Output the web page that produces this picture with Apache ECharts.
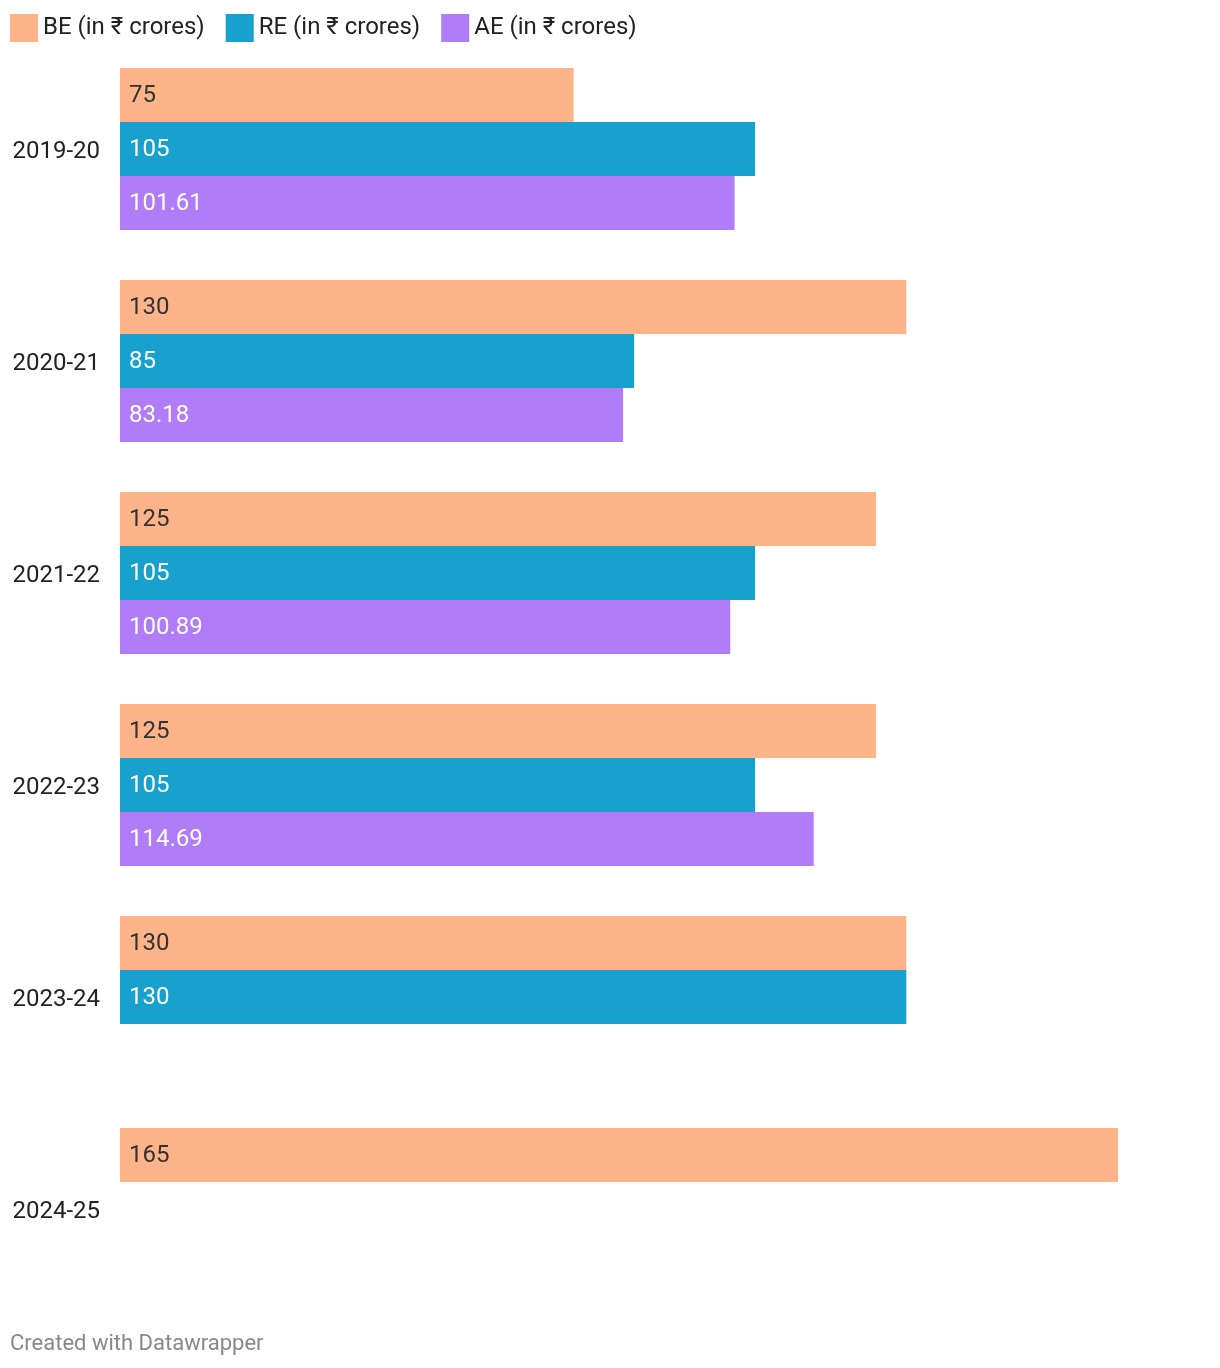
<!DOCTYPE html>
<html>
<head>
<meta charset="utf-8">
<script src="https://cdn.jsdelivr.net/npm/echarts@6/dist/echarts.min.js"></script>
<style>html,body{margin:0;padding:0;background:#fff;}#c{width:1220px;height:1368px;}</style>
</head>
<body>
<div id="c"></div>
<script>
const categories = ['2019-20', '2020-21', '2021-22', '2022-23', '2023-24', '2024-25'];
const seriesNames = ['BE (in ₹ crores)', 'RE (in ₹ crores)', 'AE (in ₹ crores)'];
const beValues = [75, 130, 125, 125, 130, 165];
const reValues = [105, 85, 105, 105, 130, null];
const aeValues = [101.61, 83.18, 100.89, 114.69, null, null];
const colors = ['#feb388', '#18a1cd', '#b07cf7'];
const labelColors = ['#333333', '#ffffff', '#ffffff'];

const chart = echarts.init(document.getElementById('c'));
const font = 'Roboto, sans-serif';
const values = [beValues, reValues, aeValues];
chart.setOption({
  animation: false,
  textStyle: { fontFamily: font },
  legend: {
    left: 10, top: 14, padding: 0, itemWidth: 28, itemHeight: 28, itemGap: 21, itemTextGap: 9,
    icon: 'rect',
    textStyle: { fontSize: 24, color: '#222', fontFamily: font },
    data: seriesNames
  },
  grid: { left: 120, top: 43, width: 998, height: 1272, containLabel: false },
  xAxis: { type: 'value', min: 0, max: 165, show: false },
  yAxis: {
    type: 'category', data: categories, inverse: true,
    axisLine: { show: false }, axisTick: { show: false },
    axisLabel: { fontSize: 24, color: '#222', margin: 20, fontFamily: font, verticalAlign: 'top', lineHeight: 6 }
  },
  graphic: [{
    type: 'text', left: 10, top: 1333,
    style: { text: 'Created with Datawrapper', fontSize: 22, fill: '#888', fontFamily: font }
  }],
  series: seriesNames.map((name, i) => ({
    name, type: 'bar', data: values[i], barWidth: 54, barGap: '0%',
    itemStyle: { color: colors[i] },
    label: {
      show: true, position: 'insideLeft', distance: 9, offset: [0, 1],
      color: labelColors[i], fontSize: 24, fontFamily: font,
      formatter: p => p.value
    }
  }))
});
</script>
</body>
</html>
